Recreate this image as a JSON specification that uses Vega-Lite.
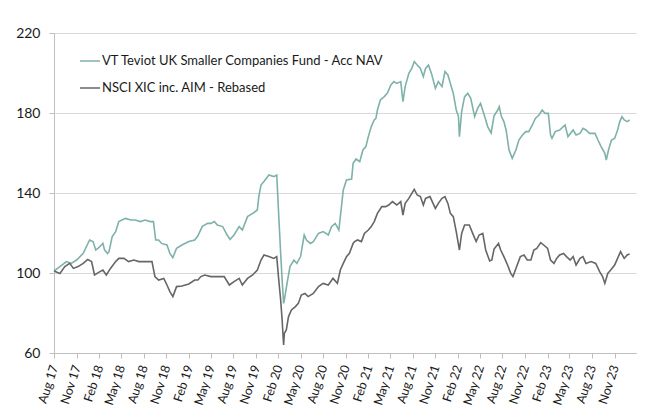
{
  "$schema": "https://vega.github.io/schema/vega-lite/v6.json",
  "width": 582,
  "height": 320,
  "autosize": {"type": "none"},
  "padding": {"left": 54, "top": 33, "right": 18, "bottom": 56},
  "background": "white",
  "config": {
    "view": {"stroke": null},
    "font": "Lato",
    "axis": {"labelFont": "Lato", "labelColor": "#1a1a1a", "domainColor": "#bfbfbf", "tickColor": "#bfbfbf", "titleFont": "Lato"},
    "legend": {"labelFont": "Lato"}
  },
  "datasets": {
    "teal": [
      {"d":"2017-08-01","v":101},{"d":"2017-08-25","v":103.2},{"d":"2017-09-21","v":105.7},{"d":"2017-10-10","v":104.8},{"d":"2017-11-01","v":106.5},{"d":"2017-11-28","v":109.8},{"d":"2017-12-24","v":116.5},{"d":"2018-01-07","v":115.7},{"d":"2018-01-18","v":111.5},{"d":"2018-01-27","v":112.3},{"d":"2018-02-10","v":114},{"d":"2018-02-16","v":114.8},{"d":"2018-02-23","v":111.5},{"d":"2018-03-07","v":109.8},{"d":"2018-03-13","v":110.7},{"d":"2018-03-26","v":118.2},{"d":"2018-04-09","v":120.7},{"d":"2018-04-22","v":125.7},{"d":"2018-05-19","v":127.3},{"d":"2018-06-10","v":126.5},{"d":"2018-06-28","v":126.5},{"d":"2018-07-19","v":125.7},{"d":"2018-08-07","v":126.5},{"d":"2018-08-28","v":125.7},{"d":"2018-09-10","v":125.7},{"d":"2018-09-19","v":116.5},{"d":"2018-10-01","v":116.5},{"d":"2018-10-13","v":114.8},{"d":"2018-11-04","v":114},{"d":"2018-11-16","v":109.8},{"d":"2018-11-28","v":107.7},{"d":"2018-12-13","v":112.3},{"d":"2019-01-04","v":114},{"d":"2019-02-01","v":115.7},{"d":"2019-02-25","v":116.5},{"d":"2019-03-10","v":118.6},{"d":"2019-03-28","v":123.3},{"d":"2019-04-19","v":124.8},{"d":"2019-05-02","v":124.8},{"d":"2019-05-16","v":125.7},{"d":"2019-05-28","v":124},{"d":"2019-06-19","v":123.2},{"d":"2019-07-07","v":119},{"d":"2019-07-19","v":116.8},{"d":"2019-08-04","v":119},{"d":"2019-08-25","v":123.2},{"d":"2019-09-07","v":121.5},{"d":"2019-09-28","v":128.2},{"d":"2019-10-19","v":129.8},{"d":"2019-11-07","v":131.5},{"d":"2019-11-13","v":138.2},{"d":"2019-11-22","v":144},{"d":"2019-12-04","v":145.7},{"d":"2019-12-24","v":149},{"d":"2020-01-13","v":148.2},{"d":"2020-01-25","v":149},{"d":"2020-02-01","v":131.5},{"d":"2020-02-10","v":109.8},{"d":"2020-02-16","v":96.5},{"d":"2020-02-22","v":84.8},{"d":"2020-02-25","v":86.5},{"d":"2020-03-07","v":94.8},{"d":"2020-03-19","v":103.2},{"d":"2020-04-04","v":106.5},{"d":"2020-04-16","v":104.8},{"d":"2020-05-01","v":108.2},{"d":"2020-05-10","v":114.8},{"d":"2020-05-16","v":119},{"d":"2020-05-25","v":116.5},{"d":"2020-06-10","v":114.8},{"d":"2020-06-22","v":115.7},{"d":"2020-07-13","v":119.8},{"d":"2020-08-01","v":120.7},{"d":"2020-08-22","v":119},{"d":"2020-09-04","v":123.2},{"d":"2020-09-19","v":124.8},{"d":"2020-10-04","v":121.5},{"d":"2020-10-13","v":131.5},{"d":"2020-10-22","v":141.5},{"d":"2020-11-04","v":146.5},{"d":"2020-11-25","v":147},{"d":"2020-12-01","v":154.8},{"d":"2020-12-13","v":157},{"d":"2020-12-28","v":155.7},{"d":"2021-01-10","v":161.5},{"d":"2021-01-22","v":163.2},{"d":"2021-02-01","v":168.2},{"d":"2021-02-13","v":173.2},{"d":"2021-02-25","v":176.5},{"d":"2021-03-04","v":177.3},{"d":"2021-03-10","v":181.5},{"d":"2021-03-22","v":186.5},{"d":"2021-04-07","v":188.2},{"d":"2021-04-19","v":189.8},{"d":"2021-05-04","v":194},{"d":"2021-05-16","v":195.7},{"d":"2021-05-28","v":194.8},{"d":"2021-06-13","v":195.7},{"d":"2021-06-22","v":185.7},{"d":"2021-07-01","v":193.2},{"d":"2021-07-16","v":199.8},{"d":"2021-07-28","v":202.3},{"d":"2021-08-07","v":205.7},{"d":"2021-08-19","v":204},{"d":"2021-09-01","v":202.3},{"d":"2021-09-13","v":198.2},{"d":"2021-09-22","v":202.3},{"d":"2021-10-04","v":204},{"d":"2021-10-16","v":199.8},{"d":"2021-11-01","v":192.3},{"d":"2021-11-13","v":195.7},{"d":"2021-11-28","v":193.2},{"d":"2021-12-10","v":200.7},{"d":"2021-12-22","v":199},{"d":"2022-01-01","v":194.8},{"d":"2022-01-13","v":189.8},{"d":"2022-01-25","v":181.5},{"d":"2022-02-03","v":178.2},{"d":"2022-02-07","v":168.2},{"d":"2022-02-16","v":180.7},{"d":"2022-02-28","v":188.2},{"d":"2022-03-13","v":189.8},{"d":"2022-03-25","v":187.3},{"d":"2022-04-10","v":178.2},{"d":"2022-04-22","v":182.3},{"d":"2022-05-04","v":184.8},{"d":"2022-05-19","v":179},{"d":"2022-06-02","v":173.2},{"d":"2022-06-16","v":170},{"d":"2022-06-28","v":178.6},{"d":"2022-07-13","v":181.5},{"d":"2022-07-19","v":183.2},{"d":"2022-07-28","v":178.2},{"d":"2022-08-07","v":175.7},{"d":"2022-08-16","v":171.5},{"d":"2022-08-28","v":161.5},{"d":"2022-09-10","v":157.3},{"d":"2022-09-25","v":161.5},{"d":"2022-10-07","v":166.5},{"d":"2022-10-22","v":169},{"d":"2022-11-04","v":170.7},{"d":"2022-11-16","v":170.7},{"d":"2022-12-01","v":174},{"d":"2022-12-13","v":177.3},{"d":"2022-12-28","v":179},{"d":"2023-01-10","v":181.5},{"d":"2023-01-22","v":179.8},{"d":"2023-02-04","v":179.8},{"d":"2023-02-13","v":169},{"d":"2023-02-19","v":167.3},{"d":"2023-03-04","v":170.7},{"d":"2023-03-22","v":171.5},{"d":"2023-04-13","v":174},{"d":"2023-04-25","v":168.2},{"d":"2023-05-16","v":171.5},{"d":"2023-05-28","v":169},{"d":"2023-06-13","v":169.8},{"d":"2023-06-25","v":172.3},{"d":"2023-07-07","v":171.5},{"d":"2023-07-22","v":169.8},{"d":"2023-08-13","v":169.8},{"d":"2023-08-25","v":166.5},{"d":"2023-09-07","v":163.2},{"d":"2023-09-22","v":159.8},{"d":"2023-09-28","v":156.5},{"d":"2023-10-07","v":161.5},{"d":"2023-10-19","v":166.5},{"d":"2023-11-01","v":167.3},{"d":"2023-11-13","v":171.5},{"d":"2023-11-22","v":175.7},{"d":"2023-12-01","v":178.2},{"d":"2023-12-10","v":176.5},{"d":"2023-12-22","v":175.7},{"d":"2024-01-01","v":176.5}
    ],
    "grey": [
      {"d":"2017-08-01","v":101},{"d":"2017-08-25","v":99.8},{"d":"2017-09-14","v":103.2},{"d":"2017-10-04","v":104.8},{"d":"2017-10-19","v":102.3},{"d":"2017-11-07","v":103.2},{"d":"2017-11-28","v":104.8},{"d":"2017-12-16","v":106.8},{"d":"2018-01-01","v":105.7},{"d":"2018-01-13","v":99},{"d":"2018-02-04","v":100.7},{"d":"2018-02-16","v":101.5},{"d":"2018-03-02","v":99},{"d":"2018-03-19","v":102.3},{"d":"2018-04-09","v":105.7},{"d":"2018-04-22","v":107.3},{"d":"2018-05-13","v":107.3},{"d":"2018-06-01","v":105.7},{"d":"2018-06-22","v":106.5},{"d":"2018-07-13","v":105.7},{"d":"2018-08-07","v":105.7},{"d":"2018-09-04","v":105.7},{"d":"2018-09-16","v":98.2},{"d":"2018-10-01","v":96.5},{"d":"2018-10-22","v":97.3},{"d":"2018-11-04","v":94},{"d":"2018-11-16","v":90.7},{"d":"2018-11-28","v":88.2},{"d":"2018-12-13","v":93.2},{"d":"2019-01-04","v":93.5},{"d":"2019-02-01","v":94.5},{"d":"2019-02-25","v":96.5},{"d":"2019-03-10","v":96.5},{"d":"2019-03-22","v":98.2},{"d":"2019-04-07","v":99},{"d":"2019-05-02","v":98.2},{"d":"2019-05-28","v":98.2},{"d":"2019-06-25","v":98.2},{"d":"2019-07-16","v":94},{"d":"2019-08-04","v":95.7},{"d":"2019-08-25","v":97.3},{"d":"2019-09-07","v":94},{"d":"2019-09-28","v":97.3},{"d":"2019-10-19","v":99},{"d":"2019-11-07","v":101.5},{"d":"2019-11-22","v":106.5},{"d":"2019-12-04","v":109},{"d":"2019-12-24","v":108.2},{"d":"2020-01-13","v":107.3},{"d":"2020-01-25","v":108.2},{"d":"2020-02-01","v":98.2},{"d":"2020-02-10","v":86.5},{"d":"2020-02-16","v":76.5},{"d":"2020-02-22","v":64},{"d":"2020-02-25","v":69.8},{"d":"2020-03-04","v":71.5},{"d":"2020-03-13","v":78.2},{"d":"2020-03-25","v":81.5},{"d":"2020-04-10","v":83.2},{"d":"2020-04-22","v":84.8},{"d":"2020-05-04","v":89},{"d":"2020-05-19","v":89.8},{"d":"2020-06-01","v":88.2},{"d":"2020-06-22","v":89.8},{"d":"2020-07-13","v":93.2},{"d":"2020-08-01","v":94.8},{"d":"2020-08-22","v":94},{"d":"2020-09-10","v":97.3},{"d":"2020-09-28","v":94.8},{"d":"2020-10-10","v":101.5},{"d":"2020-10-22","v":104.8},{"d":"2020-11-04","v":108.2},{"d":"2020-11-16","v":109.8},{"d":"2020-12-01","v":114.8},{"d":"2020-12-07","v":115.7},{"d":"2020-12-19","v":116.5},{"d":"2021-01-04","v":115.7},{"d":"2021-01-16","v":119.8},{"d":"2021-02-01","v":121.5},{"d":"2021-02-13","v":123.2},{"d":"2021-02-25","v":125.7},{"d":"2021-03-10","v":129.8},{"d":"2021-03-28","v":133.2},{"d":"2021-04-13","v":133.2},{"d":"2021-04-25","v":134},{"d":"2021-05-10","v":135.7},{"d":"2021-05-28","v":134},{"d":"2021-06-13","v":135.7},{"d":"2021-06-22","v":129},{"d":"2021-07-01","v":134.8},{"d":"2021-07-16","v":137.3},{"d":"2021-07-28","v":139.8},{"d":"2021-08-07","v":141.8},{"d":"2021-08-19","v":139},{"d":"2021-09-01","v":138.2},{"d":"2021-09-13","v":134},{"d":"2021-09-22","v":137.3},{"d":"2021-10-10","v":138.2},{"d":"2021-11-01","v":132.3},{"d":"2021-11-13","v":134.8},{"d":"2021-11-28","v":137.3},{"d":"2021-12-10","v":138.2},{"d":"2021-12-22","v":134.8},{"d":"2022-01-01","v":129.8},{"d":"2022-01-13","v":128.2},{"d":"2022-01-25","v":120.7},{"d":"2022-02-07","v":111.5},{"d":"2022-02-16","v":119.8},{"d":"2022-02-28","v":124},{"d":"2022-03-19","v":124},{"d":"2022-04-02","v":119.8},{"d":"2022-04-16","v":115.7},{"d":"2022-04-28","v":119},{"d":"2022-05-13","v":119.8},{"d":"2022-05-25","v":111.5},{"d":"2022-06-10","v":106},{"d":"2022-06-19","v":106.5},{"d":"2022-06-28","v":112},{"d":"2022-07-16","v":114.8},{"d":"2022-07-25","v":111.5},{"d":"2022-08-07","v":108.2},{"d":"2022-08-22","v":104},{"d":"2022-09-04","v":99.8},{"d":"2022-09-13","v":98.2},{"d":"2022-09-25","v":102.3},{"d":"2022-10-13","v":108.2},{"d":"2022-10-28","v":109},{"d":"2022-11-10","v":106.5},{"d":"2022-11-25","v":106.5},{"d":"2022-12-07","v":111.5},{"d":"2022-12-19","v":112.3},{"d":"2023-01-04","v":115.2},{"d":"2023-01-16","v":114},{"d":"2023-02-01","v":112.3},{"d":"2023-02-13","v":106.5},{"d":"2023-02-27","v":104.8},{"d":"2023-03-10","v":107.3},{"d":"2023-03-22","v":109},{"d":"2023-04-07","v":109.8},{"d":"2023-04-19","v":108.2},{"d":"2023-05-04","v":106.5},{"d":"2023-05-16","v":108.2},{"d":"2023-05-28","v":104},{"d":"2023-06-13","v":107.3},{"d":"2023-06-25","v":108.2},{"d":"2023-07-07","v":104.8},{"d":"2023-07-28","v":105.7},{"d":"2023-08-16","v":104.8},{"d":"2023-09-01","v":100.7},{"d":"2023-09-13","v":98.2},{"d":"2023-09-22","v":94.8},{"d":"2023-10-04","v":99.8},{"d":"2023-10-16","v":101.5},{"d":"2023-11-01","v":104},{"d":"2023-11-13","v":107.3},{"d":"2023-11-25","v":110.7},{"d":"2023-12-10","v":107.3},{"d":"2023-12-22","v":109},{"d":"2024-01-01","v":109.5}
    ]
  },
  "encoding": {
    "x": {
      "field": "d",
      "type": "temporal",
      "scale": {"type": "utc", "domain": [{"year": 2017, "month": 8, "date": 1, "utc": true}, {"year": 2024, "month": 1, "date": 27, "utc": true}]},
      "axis": {
        "title": null,
        "values": [
          {"year":2017,"month":8,"date":1,"utc":true},{"year":2017,"month":11,"date":1,"utc":true},
          {"year":2018,"month":2,"date":1,"utc":true},{"year":2018,"month":5,"date":1,"utc":true},{"year":2018,"month":8,"date":1,"utc":true},{"year":2018,"month":11,"date":1,"utc":true},
          {"year":2019,"month":2,"date":1,"utc":true},{"year":2019,"month":5,"date":1,"utc":true},{"year":2019,"month":8,"date":1,"utc":true},{"year":2019,"month":11,"date":1,"utc":true},
          {"year":2020,"month":2,"date":1,"utc":true},{"year":2020,"month":5,"date":1,"utc":true},{"year":2020,"month":8,"date":1,"utc":true},{"year":2020,"month":11,"date":1,"utc":true},
          {"year":2021,"month":2,"date":1,"utc":true},{"year":2021,"month":5,"date":1,"utc":true},{"year":2021,"month":8,"date":1,"utc":true},{"year":2021,"month":11,"date":1,"utc":true},
          {"year":2022,"month":2,"date":1,"utc":true},{"year":2022,"month":5,"date":1,"utc":true},{"year":2022,"month":8,"date":1,"utc":true},{"year":2022,"month":11,"date":1,"utc":true},
          {"year":2023,"month":2,"date":1,"utc":true},{"year":2023,"month":5,"date":1,"utc":true},{"year":2023,"month":8,"date":1,"utc":true},{"year":2023,"month":11,"date":1,"utc":true}
        ],
        "format": "%b %y",
        "labelAngle": -72,
        "labelFontSize": 12.5,
        "labelPadding": 7,
        "tickSize": 5,
        "grid": false,
        "labelOverlap": false,
        "labelBound": false,
        "labelFlush": false
      }
    },
    "y": {
      "field": "v",
      "type": "quantitative",
      "scale": {"domain": [60, 220], "nice": false, "zero": false},
      "axis": {
        "title": null,
        "values": [60, 100, 140, 180, 220],
        "labelFontSize": 14,
        "labelPadding": 9,
        "tickSize": 5,
        "grid": true,
        "gridColor": "#d9d9d9",
        "gridWidth": 1
      }
    },
    "color": {
      "type": "nominal",
      "scale": {
        "domain": ["VT Teviot UK Smaller Companies Fund - Acc NAV", "NSCI XIC inc. AIM - Rebased"],
        "range": ["#7fb1ab", "#666666"]
      },
      "legend": {
        "title": null,
        "orient": "none",
        "legendX": 25,
        "legendY": 17,
        "symbolType": "stroke",
        "symbolSize": 400,
        "symbolStrokeWidth": 1.5,
        "labelFontSize": 13,
        "labelColor": "#1a1a1a",
        "labelOffset": 1,
        "labelLimit": 500,
        "rowPadding": 9,
        "padding": 0
      }
    }
  },
  "layer": [
    {
      "data": {"name": "teal"},
      "mark": {"type": "line", "strokeWidth": 1.6, "interpolate": "linear"},
      "encoding": {"color": {"datum": "VT Teviot UK Smaller Companies Fund - Acc NAV"}}
    },
    {
      "data": {"name": "grey"},
      "mark": {"type": "line", "strokeWidth": 1.6, "interpolate": "linear"},
      "encoding": {"color": {"datum": "NSCI XIC inc. AIM - Rebased"}}
    }
  ]
}
